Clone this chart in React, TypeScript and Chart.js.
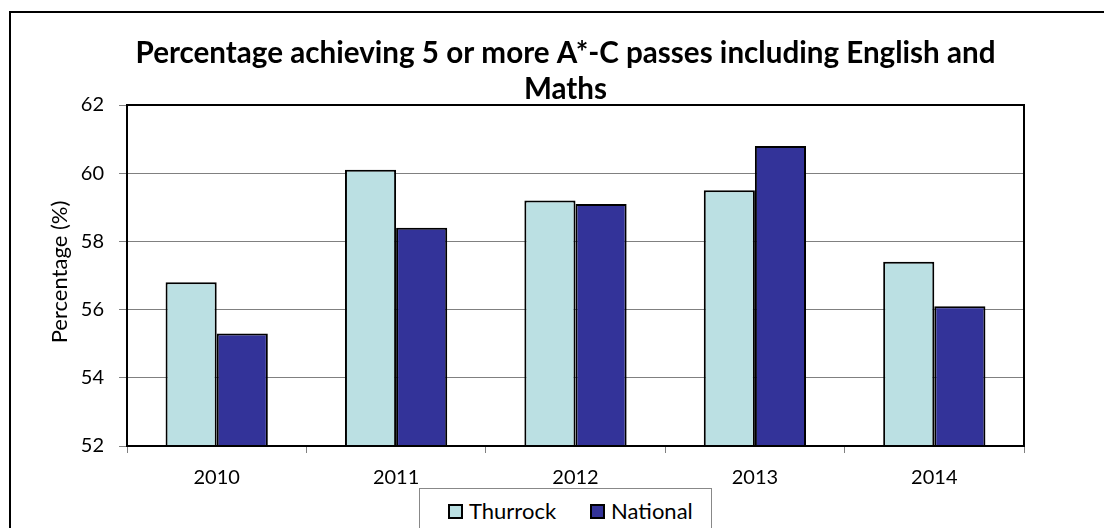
import React, { useEffect, useRef } from "react";
import { Chart, registerables } from "chart.js";

Chart.register(...registerables);

const categories = ["2010", "2011", "2012", "2013", "2014"];
const thurrock = [56.8, 60.1, 59.2, 59.5, 57.4];
const national = [55.3, 58.4, 59.1, 60.8, 56.1];
const seriesNames = ["Thurrock", "National"];
const seriesColors = ["#BBE0E3", "#333399"];
const titleLines = ["Percentage achieving 5 or more A*-C passes including English and", "Maths"];
const yTitle = "Percentage (%)";

const FONT = "Lato";
const CW = 1131;
const CH = 531;

function fitTitleSize(): number {
  const c = document.createElement("canvas").getContext("2d");
  if (!c) return 27;
  c.font = `bold 100px ${FONT}`;
  const w = c.measureText(titleLines[0]).width;
  return Math.round(((100 * 861) / w) * 10) / 10;
}

export default function App() {
  const ref = useRef<HTMLCanvasElement | null>(null);

  useEffect(() => {
    if (!ref.current) return;
    const titleSize = fitTitleSize();

    const extras = {
      id: "extras",
      afterDatasetsDraw(chart: any) {
        const { ctx, chartArea: a } = chart;
        ctx.save();
        ctx.strokeStyle = "#000";
        ctx.lineWidth = 2;
        ctx.strokeRect(a.left, a.top, a.right - a.left, a.bottom - a.top);
        ctx.restore();
      },
      afterDraw(chart: any) {
        const { ctx } = chart;
        // title
        ctx.save();
        ctx.fillStyle = "#000";
        ctx.font = `bold ${titleSize}px ${FONT}`;
        ctx.textAlign = "center";
        ctx.textBaseline = "middle";
        titleLines.forEach((line, i) => ctx.fillText(line, 565.5, 53 + i * 36));
        ctx.restore();
        // y axis title
        ctx.save();
        ctx.translate(60, 272);
        ctx.rotate(-Math.PI / 2);
        ctx.fillStyle = "#000";
        ctx.font = `22px ${FONT}`;
        ctx.textAlign = "center";
        ctx.textBaseline = "middle";
        ctx.fillText(yTitle, 0, 0);
        ctx.restore();
      },
    };

    const chart = new Chart(ref.current, {
      type: "bar",
      data: {
        labels: categories,
        datasets: [
          {
            label: seriesNames[0],
            data: thurrock,
            backgroundColor: seriesColors[0],
            borderColor: "#000",
            borderWidth: 2,
          },
          {
            label: seriesNames[1],
            data: national,
            backgroundColor: seriesColors[1],
            borderColor: "#000",
            borderWidth: 2,
          },
        ],
      },
      options: {
        responsive: false,
        animation: false,
        devicePixelRatio: 1,
        layout: { padding: { left: 0, right: CW - 1024, top: 105, bottom: 35 } },
        datasets: {
          bar: { categoryPercentage: 0.57, barPercentage: 1 },
        },
        plugins: {
          title: { display: false },
          legend: { display: false },
          tooltip: { enabled: false },
        },
        scales: {
          x: {
            afterFit(scale: any) {
              scale.height = 50;
            },
            grid: {
              display: true,
              drawOnChartArea: false,
              drawTicks: true,
              tickLength: 7,
              color: "#808080",
              lineWidth: 1,
            },
            border: { display: true, color: "#000", width: 2 },
            ticks: {
              color: "#000",
              font: { family: FONT, size: 20 },
              padding: 13,
              maxRotation: 0,
            },
          },
          y: {
            min: 52,
            max: 62,
            afterFit(scale: any) {
              scale.width = 127;
            },
            grid: {
              color: "#808080",
              lineWidth: 1,
              tickLength: 8,
              drawTicks: true,
            },
            border: { display: true, color: "#000", width: 2 },
            ticks: {
              stepSize: 2,
              color: "#000",
              font: { family: FONT, size: 20 },
              padding: 15,
            },
          },
        },
      },
      plugins: [extras],
    });

    return () => chart.destroy();
  }, []);

  return (
    <div
      style={{
        position: "fixed",
        left: 0,
        top: 0,
        width: 1104,
        height: 528,
        overflow: "hidden",
        background: "#fff",
      }}
    >
      <div
        style={{
          position: "absolute",
          left: 9,
          top: 11,
          width: 3000,
          height: 3000,
          border: "2px solid #000",
        }}
      />
      <canvas
        ref={ref}
        width={CW}
        height={CH}
        style={{ position: "absolute", left: 0, top: 0, width: CW, height: CH }}
      />
      <div
        style={{
          position: "absolute",
          left: 419,
          top: 488,
          width: 293,
          height: 100,
          boxSizing: "border-box",
          border: "1px solid #888",
          background: "#fff",
          display: "flex",
          alignItems: "flex-start",
          paddingLeft: 28,
          paddingTop: 9,
          fontFamily: FONT,
          fontSize: 22,
          lineHeight: "26px",
          color: "#000",
        }}
      >
        {seriesNames.map((name, i) => (
          <div
            key={name}
            style={{ display: "flex", alignItems: "center", marginRight: i === 0 ? 34 : 0 }}
          >
            <span
              style={{
                display: "inline-block",
                width: 15,
                height: 15,
                boxSizing: "border-box",
                border: "2px solid #000",
                background: seriesColors[i],
                marginRight: 6,
              }}
            />
            <span>{name}</span>
          </div>
        ))}
      </div>
    </div>
  );
}
